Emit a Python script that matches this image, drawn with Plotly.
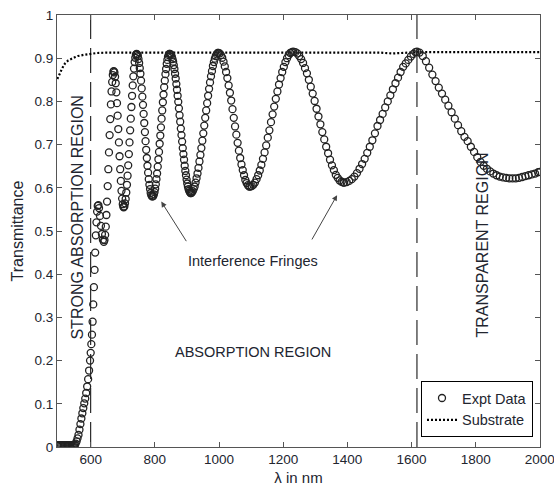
import plotly.graph_objects as go

# Absorption edge (nm, transmittance)
wl_edge = [496, 500, 504, 508, 512, 516, 520, 524, 528, 532, 536, 540, 544, 548,
           551, 553, 556, 559, 562, 565, 568, 571, 574, 577, 580, 583, 586, 589,
           592, 595, 598, 600, 602, 604, 606, 608, 610, 612, 614, 616, 618, 620,
           622, 624]
t_edge = [0.004] * 14 + [
    0.005, 0.008, 0.013, 0.020, 0.028, 0.040, 0.053, 0.066, 0.078, 0.090,
    0.101, 0.112, 0.125, 0.140, 0.157, 0.177, 0.200, 0.218, 0.238, 0.260,
    0.290, 0.330, 0.370, 0.410, 0.450, 0.490, 0.520, 0.545, 0.558, 0.560]

# Short-wavelength fringes, 626-1000 nm
wl_fringe_a = [626, 629, 632, 635, 638, 641,
               643, 645, 647, 649, 651, 653, 655, 657, 659, 661, 663, 665, 667, 669, 671, 672,
               674, 676, 678, 680, 682, 684, 686, 688, 690, 692, 694, 696, 698, 700, 702, 703,
               705, 707, 709, 711, 713, 715, 717, 719, 721, 723, 725, 727, 729, 731, 733, 735,
               737, 739, 741, 743,
               745, 747, 749, 751, 753, 755, 757, 759, 761, 763, 765, 767, 769, 771, 773, 775,
               777, 779, 781, 783, 785, 787, 789, 791, 793,
               795, 797, 799, 801, 803, 805, 807, 809, 811, 813, 815, 817, 819, 821, 823, 825,
               827, 829, 831, 833, 835, 837, 839, 841, 843, 845, 847,
               849, 851, 853, 855, 857, 859, 861, 863, 865, 867, 869, 871, 873, 875, 877, 879,
               881, 883, 885, 887, 889, 891, 893, 895, 897, 899, 901, 903, 905, 907, 909, 911, 913,
               915, 918, 921, 924, 927, 930, 933, 936, 939, 942, 945, 948, 951, 954, 957, 960,
               963, 966, 969, 972, 975, 978, 981, 984, 987, 990, 993, 996, 998]
t_fringe_a = [0.553, 0.535, 0.512, 0.493, 0.480, 0.475,
              0.479, 0.491, 0.510, 0.537, 0.568, 0.604, 0.643, 0.682, 0.722, 0.759, 0.793, 0.823,
              0.845, 0.861, 0.869, 0.870,
              0.867, 0.857, 0.842, 0.821, 0.796, 0.767, 0.736, 0.705, 0.673, 0.643, 0.616, 0.593,
              0.575, 0.562, 0.556, 0.555,
              0.557, 0.564, 0.574, 0.589, 0.607, 0.628, 0.652, 0.678, 0.705, 0.733, 0.760, 0.787,
              0.813, 0.837, 0.858, 0.876, 0.891, 0.901, 0.908, 0.910,
              0.909, 0.905, 0.898, 0.889, 0.877, 0.864, 0.848, 0.830, 0.811, 0.792, 0.771, 0.750,
              0.729, 0.708, 0.688, 0.669, 0.651, 0.635, 0.620, 0.607, 0.597, 0.588, 0.583, 0.580,
              0.580,
              0.581, 0.585, 0.590, 0.598, 0.608, 0.620, 0.633, 0.649, 0.666, 0.683, 0.702, 0.721,
              0.740, 0.760, 0.779, 0.798, 0.816, 0.833, 0.848, 0.863, 0.875, 0.887, 0.896, 0.903,
              0.907, 0.910, 0.910,
              0.909, 0.907, 0.903, 0.898, 0.892, 0.884, 0.875, 0.864, 0.853, 0.840, 0.827, 0.813,
              0.799, 0.784, 0.768, 0.753, 0.737, 0.722, 0.707, 0.692, 0.678, 0.665, 0.651, 0.639,
              0.629, 0.619, 0.610, 0.603, 0.597, 0.593, 0.590, 0.588, 0.588,
              0.589, 0.592, 0.597, 0.603, 0.612, 0.622, 0.633, 0.646, 0.661, 0.676, 0.692, 0.709,
              0.726, 0.744, 0.762, 0.779, 0.796, 0.813, 0.829, 0.844, 0.858, 0.870, 0.882, 0.891,
              0.899, 0.905, 0.909, 0.912, 0.912]

# Long-wavelength fringes, 1000-1620 nm
wl_fringe_b = [1002, 1006, 1010, 1014, 1018, 1022, 1026, 1030, 1034, 1038, 1042, 1046, 1050,
               1054, 1058, 1062, 1066, 1070, 1074, 1078, 1082, 1086, 1090, 1094, 1097,
               1102, 1107, 1112, 1117, 1122, 1127, 1132, 1137, 1142, 1147, 1152, 1157, 1162,
               1167, 1172, 1177, 1182, 1187, 1192, 1197, 1202, 1207, 1212, 1217, 1222, 1227, 1231,
               1238, 1244, 1250, 1256, 1262, 1268, 1274, 1280, 1286, 1292, 1298, 1304, 1310,
               1316, 1322, 1328, 1334, 1340, 1346, 1352, 1358, 1364, 1370, 1376, 1382, 1388,
               1390, 1398, 1406, 1414, 1422, 1430, 1438, 1446, 1454, 1462, 1470, 1478, 1486,
               1494, 1502, 1510, 1518, 1526, 1534, 1542, 1550, 1558, 1566, 1574, 1582, 1590,
               1598, 1606, 1612]
t_fringe_b = [0.911, 0.907, 0.901, 0.892, 0.881, 0.868, 0.854, 0.837, 0.820, 0.802, 0.782,
              0.762, 0.742, 0.723, 0.704, 0.686, 0.669, 0.654, 0.641, 0.629, 0.618, 0.611,
              0.606, 0.603, 0.603,
              0.604, 0.607, 0.612, 0.620, 0.629, 0.640, 0.653, 0.667, 0.682, 0.698, 0.716,
              0.733, 0.752, 0.770, 0.788, 0.806, 0.823, 0.839, 0.854, 0.868, 0.880, 0.891,
              0.900, 0.907, 0.912, 0.914, 0.915,
              0.914, 0.911, 0.905, 0.898, 0.889, 0.877, 0.865, 0.850, 0.834, 0.818, 0.801,
              0.783, 0.765, 0.747, 0.729, 0.712, 0.695, 0.680, 0.665, 0.652, 0.641, 0.630,
              0.623, 0.617, 0.614, 0.612,
              0.612, 0.613, 0.616, 0.620, 0.626, 0.634, 0.644, 0.655, 0.667, 0.681, 0.695,
              0.710, 0.726, 0.743, 0.757, 0.771, 0.786, 0.800, 0.814, 0.828, 0.842, 0.855,
              0.868, 0.880, 0.888, 0.896, 0.904, 0.910, 0.914]

# Transparent region, 1617-2000 nm
wl_transparent = [1617, 1625, 1635, 1645, 1655, 1665, 1675, 1685, 1695, 1705, 1715, 1725,
                  1735, 1745, 1755, 1765, 1775, 1785, 1795, 1805, 1815, 1825, 1835, 1845,
                  1855, 1865, 1875, 1885, 1895, 1905, 1915, 1925, 1935, 1945, 1955, 1965,
                  1975, 1985, 1995, 2000]
t_transparent = [0.915, 0.913, 0.905, 0.893, 0.878, 0.862, 0.847, 0.832, 0.818, 0.804,
                 0.790, 0.775, 0.760, 0.745, 0.731, 0.718, 0.708, 0.695, 0.683, 0.671,
                 0.660, 0.651, 0.644, 0.638, 0.633, 0.629, 0.626, 0.624, 0.623, 0.622,
                 0.622, 0.622, 0.623, 0.625, 0.627, 0.629, 0.631, 0.633, 0.636, 0.637]

# Bare substrate transmittance
wl_substrate = [496, 500, 505, 510, 515, 520, 530, 540, 550, 560, 570, 580, 590, 600, 620,
                650, 700, 800, 1000, 1200, 1400, 1500, 1540, 1580, 1620, 1800, 2000]
t_substrate = [0.852, 0.857, 0.866, 0.875, 0.882, 0.888, 0.895, 0.899, 0.902, 0.905, 0.907,
               0.908, 0.909, 0.910, 0.912, 0.913, 0.913, 0.914, 0.914, 0.914, 0.914, 0.913,
               0.911, 0.912, 0.914, 0.914, 0.914]

# Region boundaries (nm)
region_edges = [600, 1617]

x_ticks = [600, 800, 1000, 1200, 1400, 1600, 1800, 2000]
y_ticks = [0, 0.1, 0.2, 0.3, 0.4, 0.5, 0.6, 0.7, 0.8, 0.9, 1]
y_tick_text = ["0", "0.1", "0.2", "0.3", "0.4", "0.5", "0.6", "0.7", "0.8", "0.9", "1"]

wl_expt = wl_edge + wl_fringe_a + wl_fringe_b + wl_transparent
t_expt = t_edge + t_fringe_a + t_fringe_b + t_transparent

FONT = "Liberation Sans, Arial, Helvetica, sans-serif"
TEXT = "#22252f"

fig = go.Figure()

fig.add_trace(go.Scatter(
    x=wl_substrate, y=t_substrate, name="Substrate", mode="lines",
    line=dict(color="black", width=2.2, dash="2px,2px"),
    legendrank=2,
))
fig.add_trace(go.Scatter(
    x=wl_expt, y=t_expt, name="Expt Data", mode="markers",
    marker=dict(symbol="circle-open", size=7, color="#222",
                line=dict(width=1.3, color="#222")),
    legendrank=1,
))

for xe in region_edges:
    fig.add_shape(type="line", xref="x", yref="paper", x0=xe, x1=xe, y0=0, y1=1,
                  line=dict(color="black", width=1, dash="25px,9px"), layer="below")

annotations = [
    dict(x=559, y=0.53, text="STRONG ABSORPTION REGION", textangle=-90, size=16),
    dict(x=1822, y=0.468, text="TRANSPARENT REGION", textangle=-90, size=16),
    dict(x=1106, y=0.22, text="ABSORPTION REGION", textangle=0, size=14.5),
    dict(x=1106, y=0.43, text="Interference Fringes", textangle=0, size=14.5),
]
for a in annotations:
    fig.add_annotation(x=a["x"], y=a["y"], xref="x", yref="y", text=a["text"],
                       textangle=a["textangle"], showarrow=False,
                       xanchor="center", yanchor="middle",
                       font=dict(family=FONT, size=a["size"], color=TEXT))

# Arrows pointing at fringe minima
for head, tail in [((820, 0.568), (901, 0.473)), ((1368, 0.583), (1287, 0.477))]:
    fig.add_annotation(x=head[0], y=head[1], ax=tail[0], ay=tail[1],
                       xref="x", yref="y", axref="x", ayref="y", text="",
                       showarrow=True, arrowhead=2, arrowsize=1.1, arrowwidth=1,
                       arrowcolor="#444")

axis_common = dict(
    showline=True, linecolor="#555", linewidth=1, mirror="ticks",
    ticks="inside", ticklen=5, tickcolor="#555", showgrid=False, zeroline=False,
    ticklabeloverflow="allow", automargin=False,
    tickfont=dict(family=FONT, size=13.5, color=TEXT),
)

fig.update_xaxes(range=[495, 2000.5], tickvals=x_ticks,
                 title=dict(text="λ in nm", font=dict(family=FONT, size=15, color=TEXT),
                            standoff=6),
                 **axis_common)
fig.update_yaxes(range=[0, 1], tickvals=y_ticks, ticktext=y_tick_text,
                 title=dict(text="Transmittance", font=dict(family=FONT, size=16, color=TEXT),
                            standoff=6),
                 **axis_common)

fig.update_layout(
    width=554, height=495,
    margin=dict(l=57, r=14, t=15, b=48, autoexpand=False),
    paper_bgcolor="white", plot_bgcolor="white",
    font=dict(family=FONT, color=TEXT),
    legend=dict(x=0.9855, y=0.023, xanchor="right", yanchor="bottom",
                bgcolor="white", bordercolor="black", borderwidth=1,
                font=dict(family=FONT, size=14.5, color=TEXT),
                tracegroupgap=0),
    showlegend=True,
)

fig.write_html("out.html")
